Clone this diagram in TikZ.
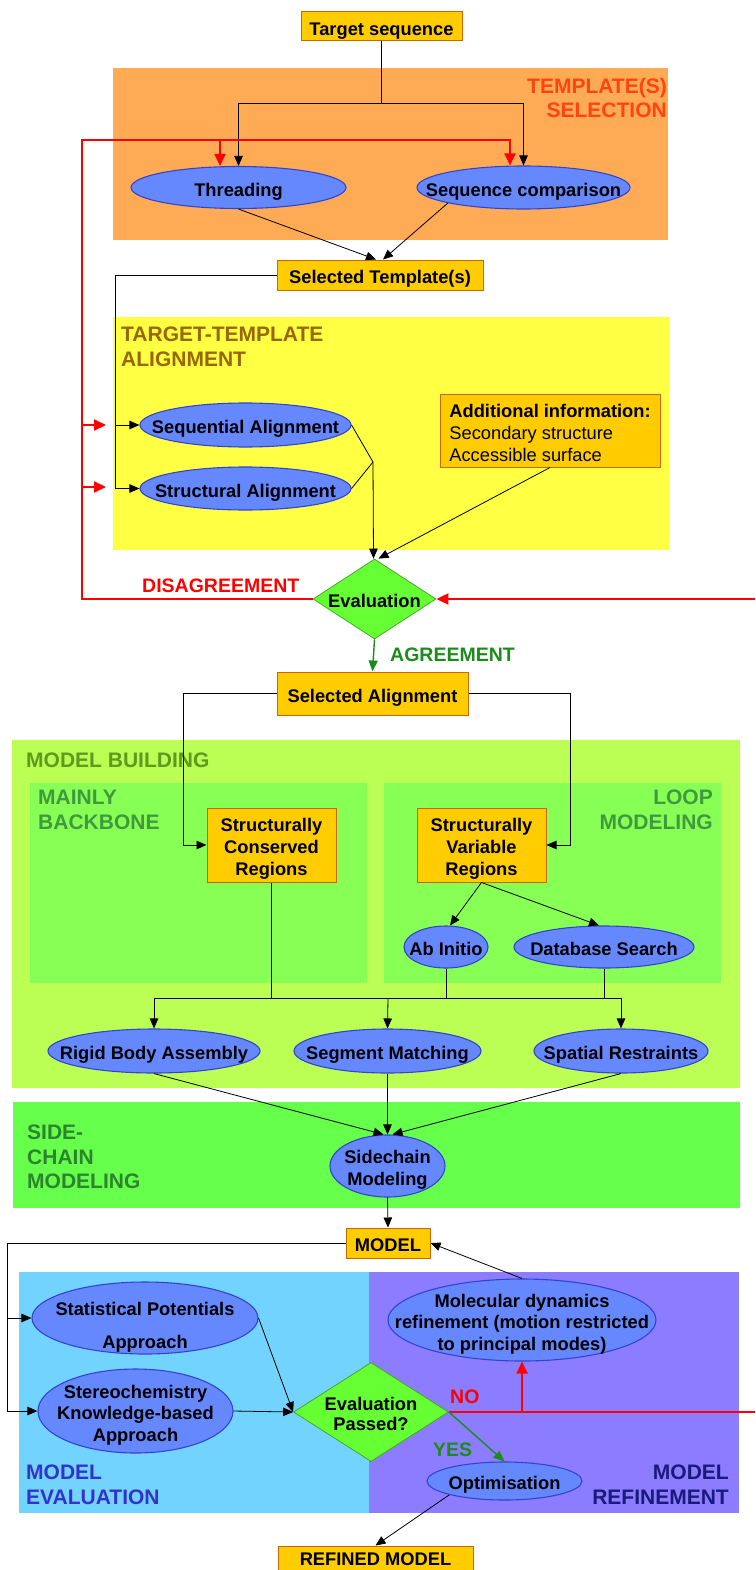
\documentclass[tikz,border=0pt]{standalone}
\usepackage{fontspec}
\setmainfont{Liberation Sans}
\usetikzlibrary{shapes.geometric,arrows.meta}

\definecolor{boxfill}{HTML}{FFCC00}
\definecolor{boxline}{HTML}{CC6600}
\definecolor{ellfill}{HTML}{6688FF}
\definecolor{ellline}{HTML}{3344CC}
\definecolor{diafill}{HTML}{66FF33}
\definecolor{dialine}{HTML}{44AA22}
\definecolor{regorange}{HTML}{FFAA55}
\definecolor{regyellow}{HTML}{FFFF44}
\definecolor{regbuild}{HTML}{BBFF55}
\definecolor{regsub}{HTML}{88FF55}
\definecolor{regside}{HTML}{66FF4C}
\definecolor{regeval}{HTML}{73D3FF}
\definecolor{regrefine}{HTML}{8C7CFF}
\definecolor{labred}{HTML}{FF4411}
\definecolor{labbrown}{HTML}{996600}
\definecolor{labolive}{HTML}{5E9A1E}
\definecolor{labgreen}{HTML}{3F9A3F}
\definecolor{labdkgreen}{HTML}{2E842E}
\definecolor{labblue}{HTML}{3333CC}
\definecolor{labnavy}{HTML}{1A1A7A}
\definecolor{agreen}{HTML}{1B8C1B}

\newcommand\zgen[4]{\makebox[0pt]{\smash{\raisebox{\dimexpr-0.25em-#2\relax}{\def\arraystretch{#1}\begin{tabular}{@{}#3@{}}#4\end{tabular}}}}}
\newcommand\zc[2][1]{\zgen{#1}{4pt}{c}{#2}}
\newcommand\zl[1]{\zgen{1}{4pt}{l}{#1}}

\begin{document}
\begin{tikzpicture}[x=1pt,y=-1pt,
  boxnode/.style={draw=boxline, fill=boxfill, line width=1pt, inner sep=0pt, font=\bfseries\fontsize{18.3}{22}\selectfont},
  ellnode/.style={ellipse, draw=ellline, fill=ellfill, line width=1.1pt, inner sep=0pt, font=\bfseries\fontsize{18.3}{21.5}\selectfont},
  dianode/.style={diamond, draw=dialine, fill=diafill, line width=0.8pt, inner sep=0pt, font=\bfseries\fontsize{18.3}{20.5}\selectfont},
  region/.style={draw=none, inner sep=0pt, outer sep=0pt, anchor=north west},
  reglabel/.style={inner sep=0pt, font=\bfseries\fontsize{21}{24.5}\selectfont},
  flowlabel/.style={inner sep=0pt, anchor=base west, font=\bfseries\fontsize{19.5}{22}\selectfont},
  plain/.style={draw=black, line width=0.8pt},
  conn/.style={draw=black, line width=0.8pt, -{Triangle[length=10pt,width=8.5pt]}},
  redline/.style={draw=red, line width=2pt},
  redconn/.style={draw=red, line width=2pt, -{Triangle[length=12pt,width=11pt]}},
  greenconn/.style={draw=agreen, line width=1.4pt, -{Triangle[length=11pt,width=9pt]}}
]
\useasboundingbox (0,0) rectangle (755,1570);
\clip (0,0) rectangle (755,1570);

% regions
\node[region, fill=regorange, minimum width=555pt, minimum height=172pt] (rTS) at (113,68) {};
\node[region, fill=regyellow, minimum width=556pt, minimum height=233pt] (rTA) at (113,317) {};
\node[region, fill=regbuild, minimum width=728pt, minimum height=348pt] (rMB) at (12,740) {};
\node[region, fill=regsub, minimum width=337pt, minimum height=200pt] (rMBB) at (30,783) {};
\node[region, fill=regsub, minimum width=337pt, minimum height=200pt] (rLM) at (384,783) {};
\node[region, fill=regside, minimum width=727pt, minimum height=106pt] (rSC) at (13,1102) {};
\node[region, fill=regeval, minimum width=350pt, minimum height=241pt] (rME) at (19,1272) {};
\node[region, fill=regrefine, minimum width=370pt, minimum height=241pt] (rMR) at (369,1272) {};

% region labels
\node[reglabel, text=labred, anchor=north east, align=right] (lTS) at (667,78) {TEMPLATE(S)\\SELECTION};
\node[reglabel, text=labbrown, anchor=north west, align=left] (lTA) at (121,327) {TARGET-TEMPLATE\\ALIGNMENT};
\node[reglabel, text=labolive, anchor=north west] (lMB) at (26,753) {MODEL BUILDING};
\node[reglabel, text=labgreen, anchor=north west, align=left] (lMBB) at (38,790) {MAINLY\\BACKBONE};
\node[reglabel, text=labgreen, anchor=north east, align=right] (lLM) at (713,790) {LOOP\\MODELING};
\node[reglabel, text=labdkgreen, anchor=north west, align=left] (lSC) at (27,1125) {SIDE-\\CHAIN\\MODELING};
\node[reglabel, text=labblue, anchor=north west, align=left] (lME) at (26,1465) {MODEL\\EVALUATION};
\node[reglabel, text=labnavy, anchor=north east, align=right] (lMR) at (729,1465) {MODEL\\REFINEMENT};

% nodes
\node[boxnode, minimum width=161pt, minimum height=29pt] (ts) at (381.5,26.5) {\zc{Target sequence}};
\node[ellnode, minimum width=215pt, minimum height=42pt] (thr) at (238.5,187.5) {\zc{Threading}};
\node[ellnode, minimum width=213pt, minimum height=43pt] (seqc) at (523.5,187.5) {\zc{Sequence comparison}};
\node[boxnode, minimum width=206pt, minimum height=30pt] (selt) at (380,275) {\zc{Selected Template(s)}};
\node[ellnode, minimum width=211pt, minimum height=44pt] (seqa) at (245.5,425) {\zc{Sequential Alignment}};
\node[ellnode, minimum width=211pt, minimum height=43pt] (stra) at (245.5,488.5) {\zc{Structural Alignment}};
\node[boxnode, font=\fontsize{18.3}{22}\selectfont, minimum width=220pt, minimum height=73pt] (addi) at (550,430.5) {\zl{\textbf{Additional information:}\\Secondary structure\\Accessible surface}};
\node[dianode, minimum width=123pt, minimum height=80pt] (eval) at (374.5,599) {\zc{Evaluation}};
\node[boxnode, minimum width=191pt, minimum height=43pt] (sela) at (372.5,693.5) {\zc{Selected Alignment}};
\node[boxnode, minimum width=129pt, minimum height=74pt] (scr) at (271.5,845) {\zc{Structurally\\Conserved\\Regions}};
\node[boxnode, minimum width=129pt, minimum height=74pt] (svr) at (481.5,845) {\zc{Structurally\\Variable\\Regions}};
\node[ellnode, minimum width=84pt, minimum height=42pt] (abi) at (446,947) {\zc{Ab Initio}};
\node[ellnode, minimum width=180pt, minimum height=42pt] (dbs) at (604,947) {\zc{Database Search}};
\node[ellnode, minimum width=212pt, minimum height=44pt] (rba) at (154,1051) {\zc{Rigid Body Assembly}};
\node[ellnode, minimum width=187pt, minimum height=44pt] (sgm) at (387.5,1051) {\zc{Segment Matching}};
\node[ellnode, minimum width=174pt, minimum height=44pt] (spr) at (621,1051) {\zc{Spatial Restraints}};
\node[ellnode, minimum width=115pt, minimum height=62pt] (sdc) at (387.5,1166) {\zc{Sidechain\\Modeling}};
\node[boxnode, minimum width=84pt, minimum height=30pt] (mdl) at (388,1243) {\zc{MODEL}};
\node[ellnode, minimum width=226pt, minimum height=72pt] (stp) at (145,1318) {\zgen{1.53}{7pt}{c}{Statistical Potentials\\Approach}};
\node[ellnode, minimum width=195pt, minimum height=84pt] (ste) at (135.5,1411) {\zc{Stereochemistry\\Knowledge-based\\Approach}};
\node[ellnode, minimum width=268pt, minimum height=82pt] (mdr) at (522,1320) {\zc{Molecular dynamics\\refinement (motion restricted\\to principal modes)}};
\node[dianode, minimum width=155pt, minimum height=99pt] (evp) at (371,1412) {\zc{Evaluation\\Passed?}};
\node[ellnode, minimum width=155pt, minimum height=38pt] (opt) at (504.5,1481) {\zc{Optimisation}};
\node[boxnode, minimum width=195pt, minimum height=30pt] (rfm) at (375.5,1561) {\zgen{1}{0pt}{c}{REFINED MODEL}};

% flow labels
\node[flowlabel, text=red] (lDis) at (142,592) {DISAGREEMENT};
\node[flowlabel, text=agreen] (lAgr) at (390,661) {AGREEMENT};
\node[flowlabel, text=red] (lNo) at (450,1403) {NO};
\node[flowlabel, text=agreen] (lYes) at (433,1456) {YES};

% coordinates
\coordinate (j1) at (381.5,103);
\coordinate (rtop) at (82,140);
\coordinate (rbot) at (82,599);
\coordinate (rthr) at (220,140);
\coordinate (rseq) at (510,140);
\coordinate (rs1) at (82,425);
\coordinate (rs1e) at (106,425);
\coordinate (rs2) at (82,487);
\coordinate (rs2e) at (106,487);
\coordinate (rright1) at (755,599);
\coordinate (ltA) at (115,425);
\coordinate (ltB) at (115,488.5);
\coordinate (jA) at (373,462);
\coordinate (lc) at (183,845);
\coordinate (rc) at (570,845);
\coordinate (mL) at (154,998);
\coordinate (mM) at (388,998);
\coordinate (mR) at (621,998);
\coordinate (mlA) at (7,1318);
\coordinate (mlB) at (7,1411);
\coordinate (rright2) at (755,1412);
\coordinate (rno) at (522,1412);

% template selection
\draw[plain] (ts.south) -- (j1);
\draw[conn] (j1) -| (thr.north);
\draw[conn] (j1) -| (seqc.north);
\draw[conn] (thr.south) -- ([xshift=-4pt]selt.north);
\draw[conn] (seqc.south west) -- ([xshift=3pt]selt.north);

% red feedback
\draw[redconn] (eval.west) -- (rbot) -- (rtop) -- (rseq) -- (rseq |- seqc.north);
\draw[redconn] (rthr) -- (rthr |- thr.north);
\draw[redconn] (rs1) -- (rs1e);
\draw[redconn] (rs2) -- (rs2e);
\draw[redconn] (rright1) -- (eval.east);

% alignment
\draw[plain] (selt.west) -| (ltB);
\draw[conn] (ltA) -- (seqa.west);
\draw[conn] (ltB) -- (stra.west);
\draw[plain] (seqa.east) -- (jA);
\draw[plain] (stra.east) -- (jA);
\draw[conn] (jA) -- ([xshift=-1pt]eval.north);
\draw[conn] (addi.south) -- ([xshift=4pt]eval.north);
\draw[greenconn] (eval.south) -- (sela.north);

% model building
\draw[conn] (sela.west) -| (lc) -- (scr.west);
\draw[conn] (sela.east) -| (rc) -- (svr.east);
\draw[conn] (svr.south) -- ([xshift=4pt]abi.north);
\draw[conn] (svr.south) -- ([xshift=-5pt]dbs.north);
\draw[plain] (scr.south) -- (scr.south |- mM);
\draw[plain] (abi.south) -- (abi.south |- mM);
\draw[plain] (dbs.south) -- (dbs.south |- mM);
\draw[plain] (mL) -- (mR);
\draw[conn] (mL) -- (rba.north);
\draw[conn] (mM) -- (sgm.north);
\draw[conn] (mR) -- (spr.north);

% side chain
\draw[conn] (rba.south) -- ([xshift=-4pt]sdc.north);
\draw[conn] (sgm.south) -- (sdc.north);
\draw[conn] (spr.south) -- ([xshift=5pt]sdc.north);
\draw[conn] (sdc.south) -- (mdl.north);

% evaluation and refinement
\draw[plain] (mdl.west) -| (mlB);
\draw[conn] (mlA) -- (stp.west);
\draw[conn] (mlB) -- (ste.west);
\draw[conn] (stp.east) -- (evp.west);
\draw[conn] (ste.east) -- (evp.west);
\draw[redline] (evp.east) -- (rright2);
\draw[redconn] (rno) -- (mdr.south);
\draw[conn] (mdr.north) -- (mdl.east);
\draw[greenconn] (evp.east) -- (opt.north);
\draw[conn] (opt.south west) -- (rfm.north);
\end{tikzpicture}
\end{document}
